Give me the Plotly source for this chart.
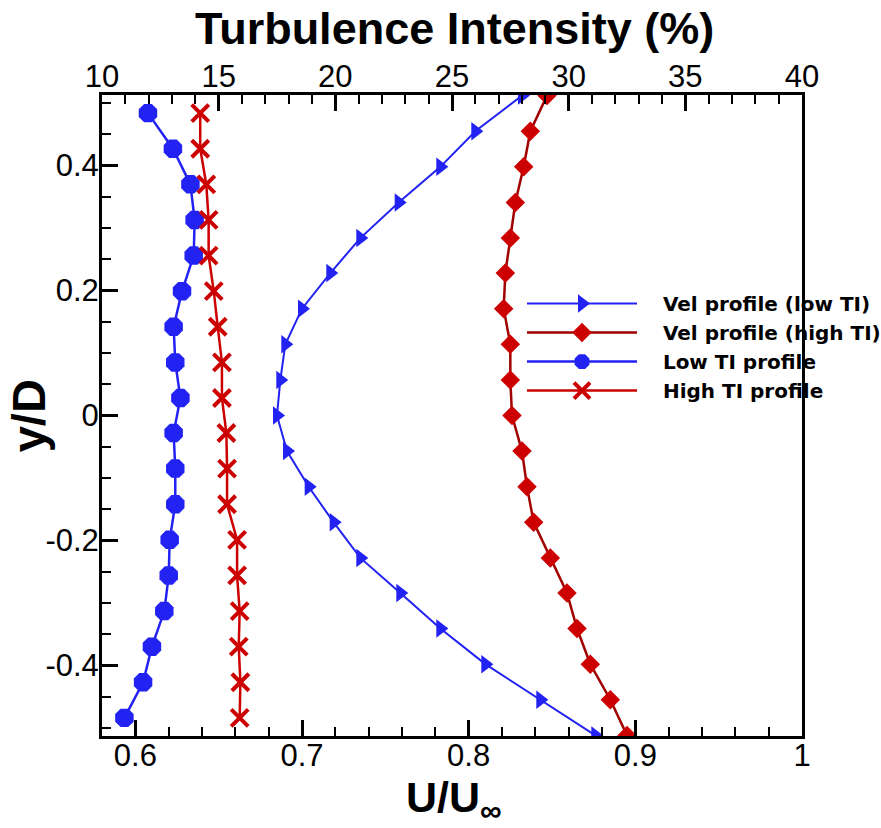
import plotly.graph_objects as go

# ---- data ----
y_vel = [0.512, 0.455, 0.398, 0.341, 0.284, 0.228, 0.171, 0.114, 0.057, 0.0,
         -0.057, -0.114, -0.171, -0.228, -0.284, -0.341, -0.398, -0.455, -0.512]
u_low_ti = [0.832, 0.804, 0.783, 0.758, 0.735, 0.717, 0.700, 0.690, 0.687, 0.685,
            0.691, 0.704, 0.719, 0.735, 0.759, 0.783, 0.810, 0.843, 0.876]
u_high_ti = [0.847, 0.837, 0.833, 0.828, 0.825, 0.822, 0.821, 0.825, 0.825, 0.826,
             0.832, 0.835, 0.839, 0.849, 0.859, 0.865, 0.873, 0.885, 0.895]

y_ti = [0.484, 0.427, 0.370, 0.313, 0.256, 0.199, 0.142, 0.085, 0.028,
        -0.028, -0.085, -0.142, -0.199, -0.256, -0.313, -0.370, -0.427, -0.484]
ti_low = [11.97, 13.04, 13.79, 13.97, 13.93, 13.43, 13.07, 13.14, 13.36,
          13.07, 13.14, 13.14, 12.90, 12.86, 12.67, 12.14, 11.76, 10.96]
ti_high = [14.21, 14.21, 14.47, 14.57, 14.57, 14.79, 14.96, 15.14, 15.14,
           15.33, 15.36, 15.36, 15.79, 15.79, 15.90, 15.86, 15.93, 15.90]

series_names = ["Vel profile (low TI)", "Vel profile (high TI)",
                "Low TI profile", "High TI profile"]

x_bottom_ticks = [0.6, 0.7, 0.8, 0.9, 1.0]
x_bottom_labels = ["0.6", "0.7", "0.8", "0.9", "1"]
x_top_ticks = [10, 15, 20, 25, 30, 35, 40]
y_ticks = [-0.4, -0.2, 0, 0.2, 0.4]
y_labels = ["-0.4", "-0.2", "0", "0.2", "0.4"]

title_top = "<b>Turbulence Intensity (%)</b>"
title_bottom = "<b>U/U<sub>∞</sub></b>"
title_left = "<b>y/D</b>"

BLUE = "#2222F2"
RED = "#CC0000"
DARKRED = "#A00000"
FONT = "Liberation Sans"
LEG_PAD = "\u00a0\u00a0\u00a0"

fig = go.Figure()
fig.add_trace(go.Scatter(
    x=u_low_ti, y=y_vel, name=LEG_PAD + series_names[0], mode="lines+markers",
    line=dict(color=BLUE, width=2),
    marker=dict(symbol="triangle-right", size=16, color=BLUE),
    xaxis="x", yaxis="y"))
fig.add_trace(go.Scatter(
    x=u_high_ti, y=y_vel, name=LEG_PAD + series_names[1], mode="lines+markers",
    line=dict(color=DARKRED, width=2.5),
    marker=dict(symbol="diamond", size=15, color=RED),
    xaxis="x", yaxis="y"))
fig.add_trace(go.Scatter(
    x=ti_low, y=y_ti, name=LEG_PAD + series_names[2], mode="lines+markers",
    line=dict(color=BLUE, width=2.5),
    marker=dict(symbol="octagon", size=20, color=BLUE),
    xaxis="x2", yaxis="y"))
fig.add_trace(go.Scatter(
    x=ti_high, y=y_ti, name=LEG_PAD + series_names[3], mode="lines+markers",
    line=dict(color=RED, width=2.5),
    marker=dict(symbol="x-thin", size=17, color=RED, line=dict(color=RED, width=4)),
    xaxis="x2", yaxis="y"))

axis_common = dict(
    showline=True, linecolor="black", linewidth=3,
    ticks="inside", ticklen=16, tickwidth=2.5, tickcolor="black",
    showgrid=False, zeroline=False, automargin=False,
    tickfont=dict(family=FONT, size=31, color="black"),
)

fig.update_layout(
    width=881, height=828,
    margin=dict(l=102, r=79, t=95, b=92, autoexpand=False),
    paper_bgcolor="white", plot_bgcolor="white",
    xaxis=dict(
        **axis_common, range=[0.58, 1.0], side="bottom",
        tickmode="array", tickvals=x_bottom_ticks, ticktext=x_bottom_labels,
        ticklabelstandoff=-10,
        minor=dict(ticks="inside", ticklen=9, tickwidth=2, tickcolor="black",
                   tickmode="linear", tick0=0.58, dtick=0.02),
    ),
    xaxis2=dict(
        **axis_common, range=[10, 40], side="top", overlaying="x",
        tickmode="array", tickvals=x_top_ticks,
        ticklabelstandoff=-7,
        minor=dict(ticks="inside", ticklen=9, tickwidth=2, tickcolor="black",
                   tickmode="linear", tick0=10, dtick=1),
    ),
    yaxis=dict(
        **axis_common, range=[-0.513, 0.513], mirror=True,
        tickmode="array", tickvals=y_ticks, ticktext=y_labels,
        ticklabelstandoff=-6,
        minor=dict(ticks="inside", ticklen=9, tickwidth=2, tickcolor="black",
                   tickmode="linear", tick0=0, dtick=0.05),
    ),
    annotations=[
        dict(text=title_top, showarrow=False, xref="paper", yref="paper",
             x=0.504, y=1.1037, xanchor="center", yanchor="middle",
             font=dict(family=FONT, size=45, color="black")),
        dict(text=title_bottom, showarrow=False, xref="paper", yref="paper",
             x=0.503, y=-0.0546, xanchor="center", yanchor="top",
             font=dict(family=FONT, size=43, color="black")),
        dict(text=title_left, textangle=-90, showarrow=False,
             xref="paper", yref="paper", x=-0.1046, y=0.5,
             xanchor="center", yanchor="middle",
             font=dict(family=FONT, size=47, color="black")),
    ],
    legend=dict(
        x=0.6, y=0.705, xanchor="left", yanchor="top",
        bgcolor="rgba(255,255,255,0)", borderwidth=0,
        font=dict(family="DejaVu Sans", size=20, color="black", weight="bold"),
        itemwidth=110, tracegroupgap=0,
    ),
    showlegend=True,
)

# remove the default 8px page margin so the figure fills the window exactly
fig.write_html("out.html", config={"displayModeBar": False},
               post_script="document.body.style.margin='0px';")
